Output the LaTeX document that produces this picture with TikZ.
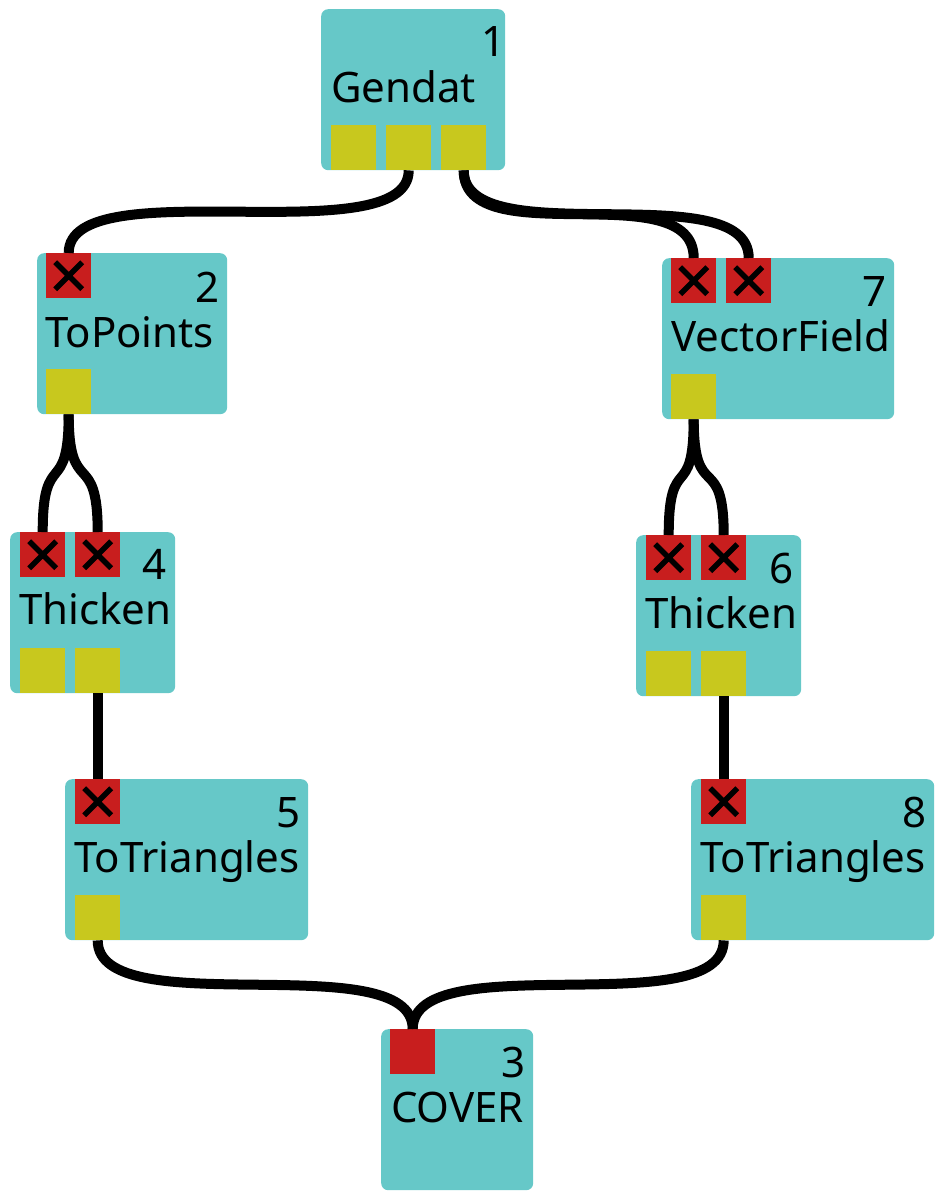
\documentclass[tikz,border=0pt]{standalone}
\usepackage{fontspec}
\setmainfont{Noto Sans}
\usetikzlibrary{calc}
\definecolor{cteal}{RGB}{102,200,200}
\definecolor{cyel}{RGB}{200,200,30}
\definecolor{cred}{RGB}{200,30,30}
\begin{document}
\begin{tikzpicture}[x=1pt,y=-1pt,
  modbox/.style={fill=cteal, rounded corners=7pt, minimum width=#1, minimum height=161pt, inner sep=0pt, anchor=north west, draw=none},
  xport/.style={fill=cred, minimum size=45pt, inner sep=0pt, anchor=north west,
    path picture={\draw[line width=5.5pt, black]
      ([shift={(9pt,-9pt)}]path picture bounding box.north west) -- ([shift={(-9pt,9pt)}]path picture bounding box.south east)
      ([shift={(-9pt,-9pt)}]path picture bounding box.north east) -- ([shift={(9pt,9pt)}]path picture bounding box.south west);}},
  plainport/.style={fill=cred, minimum size=45pt, inner sep=0pt, anchor=north west},
  outport/.style={fill=cyel, minimum size=45pt, inner sep=0pt, anchor=south west},
  lbl/.style={font=\fontsize{42}{50}\selectfont, inner sep=0pt, anchor=base west},
  num/.style={font=\fontsize{42}{50}\selectfont, inner sep=0pt, anchor=base east},
  wire/.style={line width=10pt, black}]
\useasboundingbox (0,0) rectangle (943,1199);

% ---- node 1 Gendat
\node[modbox=184pt] (n1) at (321,9) {};
\node[outport] (n1o1) at ($(n1.south west)+(10,0)$) {};
\node[outport] (n1o2) at ($(n1.south west)+(65,0)$) {};
\node[outport] (n1o3) at ($(n1.south west)+(120,0)$) {};
\node[lbl] (n1l) at ($(n1.north west)+(10,93)$) {Gendat};
\node[num] (n1n) at ($(n1.north east)+(0,48)$) {1};

% ---- node 2 ToPoints
\node[modbox=190pt] (n2) at (37,253) {};
\node[xport] (n2i1) at ($(n2.north west)+(9,0)$) {};
\node[outport] (n2o1) at ($(n2.south west)+(9,0)$) {};
\node[lbl] (n2l) at ($(n2.north west)+(8,94)$) {ToPoints};
\node[num] (n2n) at ($(n2.north east)+(-8,49)$) {2};

% ---- node 4 Thicken
\node[modbox=165pt] (n4) at (10,532) {};
\node[xport] (n4i1) at ($(n4.north west)+(10,0)$) {};
\node[xport] (n4i2) at ($(n4.north west)+(65,0)$) {};
\node[outport] (n4o1) at ($(n4.south west)+(10,0)$) {};
\node[outport] (n4o2) at ($(n4.south west)+(65,0)$) {};
\node[lbl] (n4l) at ($(n4.north west)+(9,92)$) {Thicken};
\node[num] (n4n) at ($(n4.north east)+(-9,47)$) {4};

% ---- node 7 VectorField
\node[modbox=232pt] (n7) at (662,258) {};
\node[xport] (n7i1) at ($(n7.north west)+(9,0)$) {};
\node[xport] (n7i2) at ($(n7.north west)+(64,0)$) {};
\node[outport] (n7o1) at ($(n7.south west)+(9,0)$) {};
\node[lbl] (n7l) at ($(n7.north west)+(9,93)$) {VectorField};
\node[num] (n7n) at ($(n7.north east)+(-8,48)$) {7};

% ---- node 6 Thicken
\node[modbox=165pt] (n6) at (636,535) {};
\node[xport] (n6i1) at ($(n6.north west)+(10,0)$) {};
\node[xport] (n6i2) at ($(n6.north west)+(65,0)$) {};
\node[outport] (n6o1) at ($(n6.south west)+(10,0)$) {};
\node[outport] (n6o2) at ($(n6.south west)+(65,0)$) {};
\node[lbl] (n6l) at ($(n6.north west)+(9,93)$) {Thicken};
\node[num] (n6n) at ($(n6.north east)+(-8,48)$) {6};

% ---- node 5 ToTriangles
\node[modbox=243pt] (n5) at (65,779) {};
\node[xport] (n5i1) at ($(n5.north west)+(10,0)$) {};
\node[outport] (n5o1) at ($(n5.south west)+(10,0)$) {};
\node[lbl] (n5l) at ($(n5.north west)+(9,93)$) {ToTriangles};
\node[num] (n5n) at ($(n5.north east)+(-8,48)$) {5};

% ---- node 8 ToTriangles
\node[modbox=243pt] (n8) at (691,779) {};
\node[xport] (n8i1) at ($(n8.north west)+(10,0)$) {};
\node[outport] (n8o1) at ($(n8.south west)+(10,0)$) {};
\node[lbl] (n8l) at ($(n8.north west)+(9,93)$) {ToTriangles};
\node[num] (n8n) at ($(n8.north east)+(-8,48)$) {8};

% ---- node 3 COVER
\node[modbox=152pt] (n3) at (381,1029) {};
\node[plainport] (n3i1) at ($(n3.north west)+(9,0)$) {};
\node[lbl] (n3l) at ($(n3.north west)+(10,93)$) {COVER};
\node[num] (n3n) at ($(n3.north east)+(-8,48)$) {3};

% ---- connectors
\foreach \a/\b in {n1o2/n2i1, n1o3/n7i1, n1o3/n7i2, n2o1/n4i1, n2o1/n4i2,
                   n4o2/n5i1, n7o1/n6i1, n7o1/n6i2, n6o2/n8i1, n5o1/n3i1, n8o1/n3i1}
  \draw[wire] (\a.south) .. controls ($(\a.south)+(0,85)$) and ($(\b.north)+(0,-85)$) .. (\b.north);
\end{tikzpicture}
\end{document}
